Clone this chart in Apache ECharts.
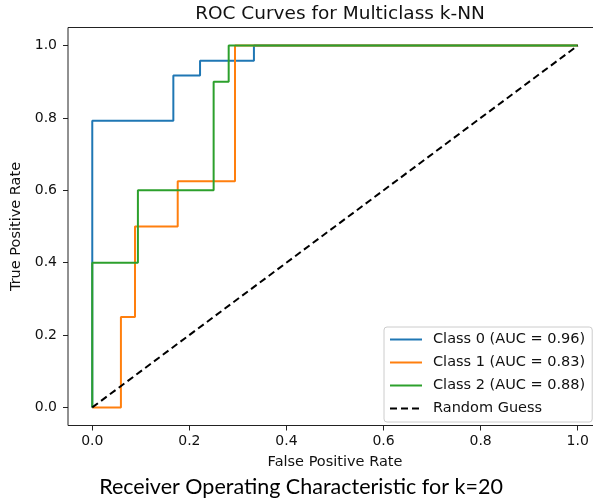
<!DOCTYPE html>
<html>
<head>
<meta charset="utf-8">
<script src="https://cdn.jsdelivr.net/npm/echarts@6/dist/echarts.min.js"></script>
<style>
html,body{margin:0;padding:0;background:#fff;overflow:hidden;}
#chart{width:620px;height:499px;}
</style>
</head>
<body>
<div id="chart"></div>
<script>
// ---- data ----
const seriesNames = ['Class 0 (AUC = 0.96)', 'Class 1 (AUC = 0.83)', 'Class 2 (AUC = 0.88)', 'Random Guess'];
const class0Fpr = [0, 0, 0.167, 0.167, 0.222, 0.222, 0.333, 0.333, 1];
const class0Tpr = [0, 0.792, 0.792, 0.917, 0.917, 0.958, 0.958, 1, 1];
const class1Fpr = [0, 0.059, 0.059, 0.088, 0.088, 0.176, 0.176, 0.294, 0.294, 1];
const class1Tpr = [0, 0, 0.25, 0.25, 0.5, 0.5, 0.625, 0.625, 1, 1];
const class2Fpr = [0, 0, 0.094, 0.094, 0.25, 0.25, 0.281, 0.281, 1];
const class2Tpr = [0, 0.4, 0.4, 0.6, 0.6, 0.9, 0.9, 1, 1];
const randomFpr = [0, 1];
const randomTpr = [0, 1];
const tickValues = [0, 0.2, 0.4, 0.6, 0.8, 1.0];
const titleText = 'ROC Curves for Multiclass k-NN';
const xName = 'False Positive Rate';
const yName = 'True Positive Rate';
const captionText = 'Receiver Operating Characteristic for k=20';

const colors = ['#1f77b4', '#ff7f0e', '#2ca02c', '#000000'];
const zip = (xs, ys) => xs.map((x, i) => [x, ys[i]]);
const curves = [zip(class0Fpr, class0Tpr), zip(class1Fpr, class1Tpr), zip(class2Fpr, class2Tpr), zip(randomFpr, randomTpr)];

const FONT = 'DejaVu Sans';
const chart = echarts.init(document.getElementById('chart'), null, {renderer: 'canvas'});

const axisCommon = {
  type: 'value',
  min: -0.05,
  max: 1.05,
  splitLine: {show: false},
  axisLine: {show: false, onZero: false},
  axisTick: {show: true, length: 5, lineStyle: {color: '#222', width: 1}, customValues: tickValues},
  axisLabel: {
    customValues: tickValues,
    formatter: v => v.toFixed(1),
    fontFamily: FONT, fontSize: 14, color: '#111'
  },
  nameLocation: 'middle',
  nameTextStyle: {fontFamily: FONT, fontSize: 14.5, color: '#111'}
};

chart.setOption({
  animation: false,
  backgroundColor: '#fff',
  color: colors,
  title: {
    text: titleText,
    left: 335,
    textAlign: 'center',
    top: 0,
    textStyle: {fontFamily: FONT, fontSize: 18.5, fontWeight: 'normal', color: '#111'}
  },
  grid: {
    left: 68, top: 27.5, width: 534, height: 398,
    show: true, borderColor: '#222', borderWidth: 1, backgroundColor: 'transparent'
  },
  xAxis: Object.assign({}, axisCommon, {
    name: xName, nameGap: 29,
    axisLabel: Object.assign({}, axisCommon.axisLabel, {margin: 9})
  }),
  yAxis: Object.assign({}, axisCommon, {
    name: yName, nameGap: 38,
    axisLabel: Object.assign({}, axisCommon.axisLabel, {margin: 11})
  }),
  legend: {
    data: seriesNames,
    orient: 'vertical',
    left: 384, top: 327,
    itemWidth: 32, itemHeight: 14, itemGap: 8,
    padding: [5, 7, 6, 5],
    itemStyle: {opacity: 0},
    backgroundColor: 'rgba(255,255,255,0.8)',
    borderColor: '#cccccc', borderWidth: 1, borderRadius: 3,
    textStyle: {fontFamily: FONT, fontSize: 14.5, color: '#111', padding: [0, 0, 0, 6]}
  },
  graphic: [{
    type: 'text',
    x: 301, y: 487,
    style: {text: captionText, font: '21.5px Lato', fill: '#000', align: 'center', verticalAlign: 'middle'},
    z: 100
  }],
  series: curves.map((d, i) => ({
    name: seriesNames[i],
    type: 'line',
    data: d,
    symbol: 'none',
    lineStyle: {width: 2, color: colors[i], type: i === 3 ? [7, 4] : 'solid'},
    z: 2 + i
  }))
});
</script>
</body>
</html>
